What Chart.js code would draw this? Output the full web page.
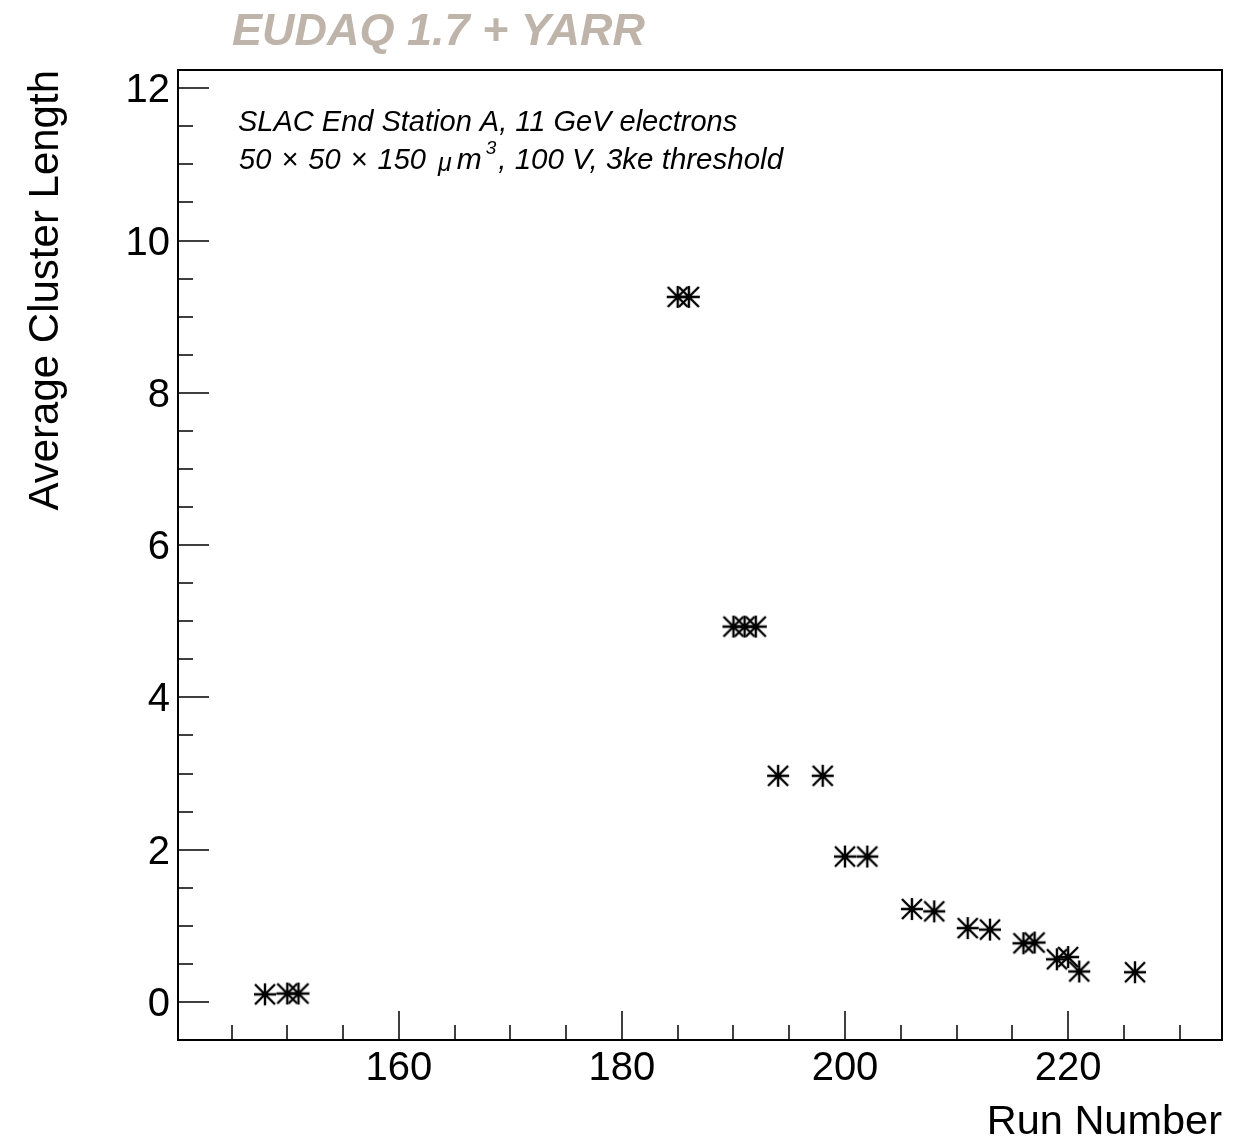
<!DOCTYPE html>
<html>
<head>
<meta charset="utf-8">
<title>Average Cluster Length vs Run Number</title>
<script src="https://cdn.jsdelivr.net/npm/chart.js@4.4.1/dist/chart.umd.min.js"></script>
<style>
  html, body { margin: 0; padding: 0; background: #fff; }
  canvas { display: block; }
</style>
</head>
<body>
<canvas id="chart" width="1253" height="1143"></canvas>
<script>
// --- Data ---
const runNumbers    = [148, 150, 151, 185, 186, 190, 191, 192, 194, 198, 200, 202, 206, 208, 211, 213, 216, 217, 219, 220, 221, 226];
const clusterLength = [0.10, 0.11, 0.11, 9.26, 9.26, 4.93, 4.93, 4.93, 2.97, 2.97, 1.91, 1.91, 1.22, 1.19, 0.97, 0.95, 0.77, 0.78, 0.56, 0.59, 0.40, 0.39];

const xMajorTicks = [160, 180, 200, 220];
const xMinorTicks = [145, 150, 155, 165, 170, 175, 185, 190, 195, 205, 210, 215, 225, 230];
const yMajorTicks = [0, 2, 4, 6, 8, 10, 12];
const yMinorTicks = [0.5, 1, 1.5, 2.5, 3, 3.5, 4.5, 5, 5.5, 6.5, 7, 7.5, 8.5, 9, 9.5, 10.5, 11, 11.5];

const FONT = "'Liberation Sans', Arial, Helvetica, sans-serif";

// --- ROOT style asterisk marker (+ and x overlaid) ---
function asteriskMarker(size, lw) {
  const c = document.createElement('canvas');
  c.width = c.height = size;
  const g = c.getContext('2d');
  const m = 1, e = size - 1, h = size / 2;
  g.strokeStyle = '#000';
  g.lineWidth = lw;
  g.beginPath();
  g.moveTo(m, h); g.lineTo(e, h);
  g.moveTo(h, m); g.lineTo(h, e);
  g.moveTo(m + 1, m + 1); g.lineTo(e - 1, e - 1);
  g.moveTo(m + 1, e - 1); g.lineTo(e - 1, m + 1);
  g.stroke();
  return c;
}
const marker = asteriskMarker(24, 2.4);

// --- frame, ticks and the text labels, ROOT style ---
const rootFrame = {
  id: 'rootFrame',
  afterDraw(chart) {
    const { ctx, chartArea: a, scales: { x, y } } = chart;
    ctx.save();
    ctx.strokeStyle = '#000';

    // frame
    ctx.lineWidth = 2;
    ctx.strokeRect(a.left, a.top, a.right - a.left, a.bottom - a.top);

    // ticks
    ctx.lineWidth = 1.5;
    ctx.beginPath();
    yMajorTicks.forEach(v => { const p = Math.round(y.getPixelForValue(v)); ctx.moveTo(a.left, p); ctx.lineTo(a.left + 31, p); });
    yMinorTicks.forEach(v => { const p = Math.round(y.getPixelForValue(v)); ctx.moveTo(a.left, p); ctx.lineTo(a.left + 15, p); });
    xMajorTicks.forEach(v => { const p = Math.round(x.getPixelForValue(v)); ctx.moveTo(p, a.bottom); ctx.lineTo(p, a.bottom - 29); });
    xMinorTicks.forEach(v => { const p = Math.round(x.getPixelForValue(v)); ctx.moveTo(p, a.bottom); ctx.lineTo(p, a.bottom - 15); });
    ctx.stroke();

    // header
    ctx.fillStyle = '#bfb4a9';
    ctx.font = `italic bold 45px ${FONT}`;
    ctx.textBaseline = 'alphabetic';
    ctx.textAlign = 'left';
    ctx.fillText('EUDAQ 1.7 + YARR', 232, 45);

    // annotation
    ctx.fillStyle = '#000';
    ctx.font = `italic 29px ${FONT}`;
    ctx.fillText('SLAC End Station A, 11 GeV electrons', 238, 131);

    let cx = 239;
    const base = 169;
    const part = (txt, size, dy, gap) => {
      ctx.font = `italic ${size}px ${FONT}`;
      ctx.fillText(txt, cx, base + dy);
      cx += ctx.measureText(txt).width + (gap || 0);
    };
    part('50', 29, 0, 2);
    part(' \u00d7 ', 29, 0, 2);
    part('50', 29, 0, 2);
    part(' \u00d7 ', 29, 0, 2);
    part('150', 29, 0, 12);
    part('\u03bc', 25, 2, 5);
    part('m', 30, 0, 4);
    part('3', 19, -15, 2);
    part(', 100 V, 3ke threshold', 29.5, 0, 0);

    ctx.restore();
  }
};

const ctx = document.getElementById('chart').getContext('2d');

new Chart(ctx, {
  type: 'scatter',
  data: {
    datasets: [{
      label: 'Average Cluster Length',
      data: runNumbers.map((r, i) => ({ x: r, y: clusterLength[i] })),
      pointStyle: marker,
      pointRadius: 12,
      borderColor: '#000',
      backgroundColor: '#000'
    }]
  },
  options: {
    responsive: false,
    animation: false,
    layout: { padding: { left: 0, top: 70, right: 31, bottom: 0 } },
    plugins: { legend: { display: false }, tooltip: { enabled: false } },
    scales: {
      x: {
        type: 'linear',
        min: 140.2,
        max: 233.8,
        grid: { display: false, drawTicks: false },
        border: { display: false },
        afterBuildTicks: s => { s.ticks = xMajorTicks.map(v => ({ value: v })); },
        afterFit: s => { s.height = 103; },
        ticks: { font: { family: FONT, size: 40 }, color: '#000', padding: 5, maxRotation: 0, autoSkip: false },
        title: { display: true, text: 'Run Number', align: 'end', color: '#000',
                 font: { family: FONT, size: 41.5, lineHeight: 1 }, padding: 0 }
      },
      y: {
        type: 'linear',
        min: -0.5,
        max: 12.24,
        grid: { display: false, drawTicks: false },
        border: { display: false },
        afterBuildTicks: s => { s.ticks = yMajorTicks.map(v => ({ value: v })); },
        afterFit: s => { s.width = 178; },
        ticks: { font: { family: FONT, size: 40 }, color: '#000', padding: 8, labelOffset: 3, autoSkip: false },
        title: { display: true, text: 'Average Cluster Length', align: 'end', color: '#000',
                 font: { family: FONT, size: 42, lineHeight: 1 }, padding: { top: 25, bottom: 0 } }
      }
    }
  },
  plugins: [rootFrame]
});
</script>
</body>
</html>
